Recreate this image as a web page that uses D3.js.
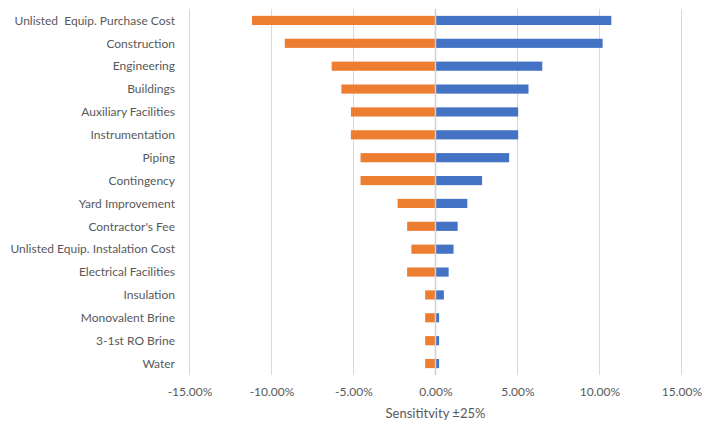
<!DOCTYPE html>
<html>
<head>
<meta charset="utf-8">
<script src="https://cdn.jsdelivr.net/npm/d3@7"></script>
<style>
  html, body { margin: 0; padding: 0; background: #fff; }
  svg text { font-family: Lato, "Open Sans", sans-serif; fill: #595959; white-space: pre; }
</style>
</head>
<body>
<svg id="chart" width="718" height="428"></svg>
<script>
// Cost items, top to bottom
const categories = [
  "Unlisted  Equip. Purchase Cost",
  "Construction",
  "Engineering",
  "Buildings",
  "Auxiliary Facilities",
  "Instrumentation",
  "Piping",
  "Contingency",
  "Yard Improvement",
  "Contractor's Fee",
  "Unlisted Equip. Instalation Cost",
  "Electrical Facilities",
  "Insulation",
  "Monovalent Brine",
  "3-1st RO Brine",
  "Water"
];

// Change in result (%) for a +25% change of each item
const increase = [10.72, 10.19, 6.51, 5.67, 5.04, 5.04, 4.49, 2.84, 1.94, 1.35, 1.10, 0.80, 0.51, 0.22, 0.22, 0.22];
// Change in result (%) for a -25% change of each item
const decrease = [-11.19, -9.19, -6.33, -5.74, -5.16, -5.16, -4.57, -4.57, -2.31, -1.73, -1.47, -1.73, -0.63, -0.63, -0.63, -0.63];

const tickValues = [-15, -10, -5, 0, 5, 10, 15];
const axisTitle = "Sensititvity \u00b125%";

const svg = d3.select("#chart");

const plotTop = 9, plotBottom = 375;

const x = d3.scaleLinear().domain([-15, 15]).range([189.5, 681.5]);
const y = d3.scaleBand().domain(categories).range([plotTop, plotBottom])
  .paddingInner(0.6).paddingOuter(0.3);

// vertical gridlines
svg.append("g").selectAll("line")
  .data(tickValues.filter(d => d !== 0))
  .join("line")
  .attr("x1", d => x(d)).attr("x2", d => x(d))
  .attr("y1", plotTop).attr("y2", plotBottom)
  .attr("stroke", "#d9d9d9").attr("stroke-width", 1);

// bars for the decrease case
svg.append("g").selectAll("rect")
  .data(categories.map((c, i) => ({ c, v: decrease[i] })))
  .join("rect")
  .attr("x", d => x(d.v))
  .attr("y", d => y(d.c))
  .attr("width", d => x(0) - x(d.v))
  .attr("height", y.bandwidth())
  .attr("fill", "#ed7d31");

// bars for the increase case
svg.append("g").selectAll("rect")
  .data(categories.map((c, i) => ({ c, v: increase[i] })))
  .join("rect")
  .attr("x", x(0))
  .attr("y", d => y(d.c))
  .attr("width", d => x(d.v) - x(0))
  .attr("height", y.bandwidth())
  .attr("fill", "#4472c4");

// zero line
svg.append("line")
  .attr("x1", x(0)).attr("x2", x(0))
  .attr("y1", plotTop).attr("y2", plotBottom)
  .attr("stroke", "#d0d0d0").attr("stroke-width", 1.5);

// category labels
svg.append("g").selectAll("text")
  .data(categories)
  .join("text")
  .attr("x", 175)
  .attr("y", d => y(d) + y.bandwidth() / 2)
  .attr("dy", "0.35em")
  .attr("text-anchor", "end")
  .attr("font-size", 12)
  .text(d => d);

// x axis tick labels (plain hyphen for negatives)
const fmt = d3.formatLocale({ decimal: ".", thousands: ",", grouping: [3], currency: ["", ""], minus: "-" }).format(".2f");
const xAxis = d3.axisBottom(x)
  .tickValues(tickValues)
  .tickFormat(d => fmt(d) + "%")
  .tickSize(0)
  .tickPadding(0);

const gx = svg.append("g").attr("transform", `translate(0, ${plotBottom + 12})`).call(xAxis);
gx.select(".domain").remove();
gx.selectAll("text")
  .attr("font-size", 12)
  .style("font-family", "Lato, 'Open Sans', sans-serif")
  .attr("fill", "#595959");

// axis title
svg.append("text")
  .attr("x", x(0))
  .attr("y", 418)
  .attr("text-anchor", "middle")
  .attr("font-size", 13)
  .text(axisTitle);
</script>
</body>
</html>
